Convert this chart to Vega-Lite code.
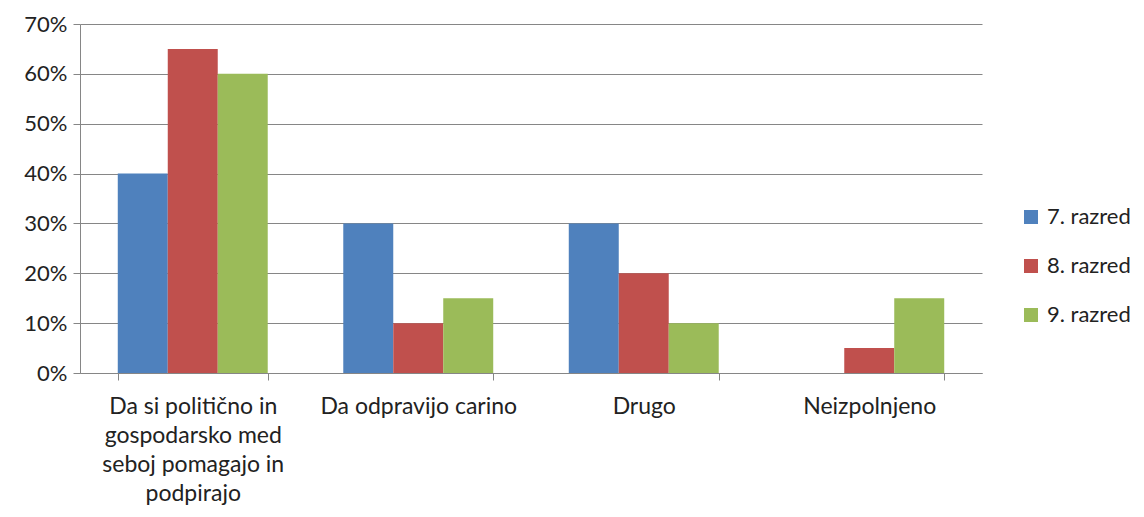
{
  "$schema": "https://vega.github.io/schema/vega-lite/v6.json",
  "autosize": "none",
  "padding": {"left": 80, "top": 24, "right": 162, "bottom": 144},
  "width": 902,
  "height": 349,
  "background": "white",
  "config": {
    "view": {"stroke": null},
    "font": "Lato",
    "axis": {"labelFont": "Lato", "labelColor": "#222", "labelFontSize": 22}
  },
  "data": {
    "values": [
      {"kategorija": "Da si politično in gospodarsko med seboj pomagajo in podpirajo", "razred": "7. razred", "delez": 0.40},
      {"kategorija": "Da si politično in gospodarsko med seboj pomagajo in podpirajo", "razred": "8. razred", "delez": 0.65},
      {"kategorija": "Da si politično in gospodarsko med seboj pomagajo in podpirajo", "razred": "9. razred", "delez": 0.60},
      {"kategorija": "Da odpravijo carino", "razred": "7. razred", "delez": 0.30},
      {"kategorija": "Da odpravijo carino", "razred": "8. razred", "delez": 0.10},
      {"kategorija": "Da odpravijo carino", "razred": "9. razred", "delez": 0.15},
      {"kategorija": "Drugo", "razred": "7. razred", "delez": 0.30},
      {"kategorija": "Drugo", "razred": "8. razred", "delez": 0.20},
      {"kategorija": "Drugo", "razred": "9. razred", "delez": 0.10},
      {"kategorija": "Neizpolnjeno", "razred": "7. razred", "delez": 0.0},
      {"kategorija": "Neizpolnjeno", "razred": "8. razred", "delez": 0.05},
      {"kategorija": "Neizpolnjeno", "razred": "9. razred", "delez": 0.15}
    ]
  },
  "mark": {"type": "bar"},
  "encoding": {
    "x": {
      "field": "kategorija",
      "type": "nominal",
      "sort": null,
      "scale": {"paddingInner": 0.335, "paddingOuter": 0.1675},
      "axis": {
        "title": null,
        "labelAngle": 0,
        "labelAlign": "center",
        "labelBaseline": "top",
        "labelPadding": 15,
        "labelFontSize": 23,
        "labelLineHeight": 29,
        "labelLimit": 0,
        "tickBand": "extent",
        "tickSize": 7,
        "tickColor": "#868686",
        "domainColor": "#868686",
        "labelExpr": "indexof(datum.label, 'Da si') == 0 ? ['Da si politično in', 'gospodarsko med', 'seboj pomagajo in', 'podpirajo'] : datum.label"
      }
    },
    "xOffset": {"field": "razred", "type": "nominal", "scale": {"paddingInner": 0, "paddingOuter": 0}},
    "y": {
      "field": "delez",
      "type": "quantitative",
      "scale": {"domain": [0, 0.7]},
      "axis": {
        "title": null,
        "format": ".0%",
        "values": [0, 0.1, 0.2, 0.3, 0.4, 0.5, 0.6, 0.7],
        "tickSize": 7,
        "labelPadding": 6,
        "tickColor": "#868686",
        "domainColor": "#868686",
        "gridColor": "#868686",
        "gridOpacity": 1
      }
    },
    "color": {
      "field": "razred",
      "type": "nominal",
      "scale": {"range": ["#4F81BD", "#C0504D", "#9BBB59"]},
      "legend": {
        "title": null,
        "orient": "none",
        "legendX": 940,
        "legendY": 182,
        "symbolType": "square",
        "symbolSize": 196,
        "symbolStrokeWidth": 0,
        "symbolOpacity": 1,
        "labelFontSize": 22,
        "labelFont": "Lato",
        "labelColor": "#222",
        "labelOffset": 5,
        "rowPadding": 27
      }
    }
  }
}
